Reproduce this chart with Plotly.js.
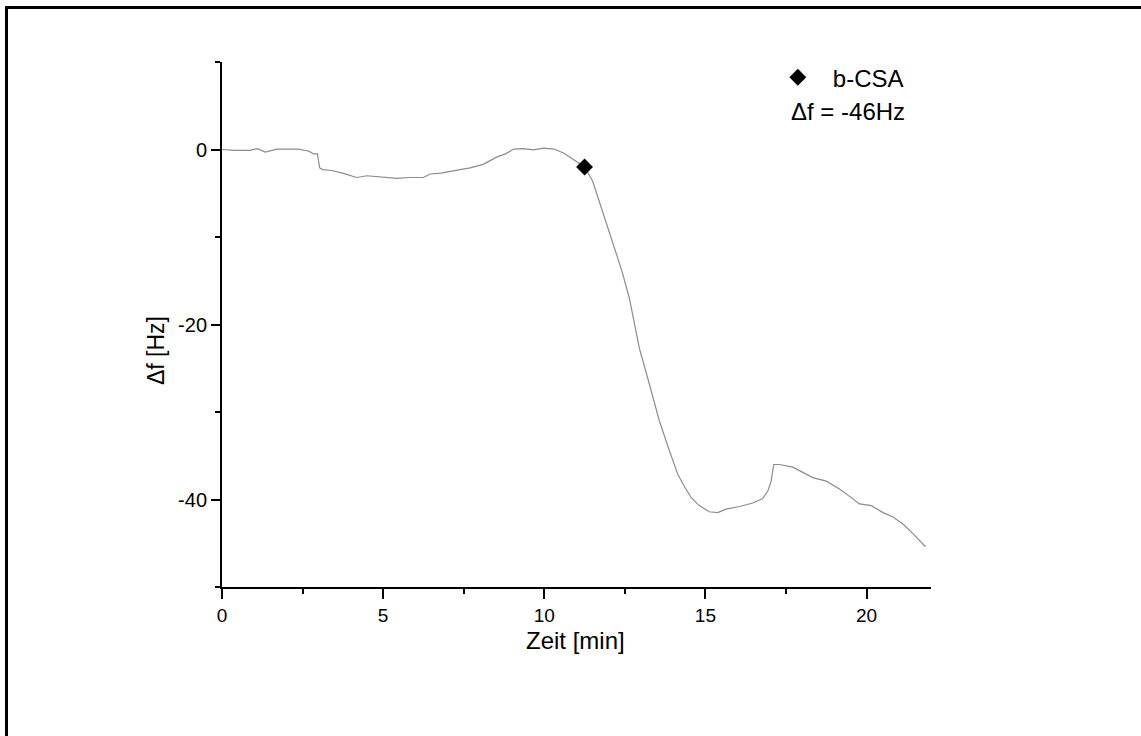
<!DOCTYPE html>
<html>
<head>
<meta charset="utf-8">
<script src="https://cdn.plot.ly/plotly-3.0.1.min.js"></script>
<style>
  html, body { margin: 0; padding: 0; background: #fff; overflow: hidden; }
  #wrap { width: 1141px; height: 736px; position: relative; overflow: hidden; }
  #chart { width: 1141px; height: 736px; }
  #frame { position: absolute; left: 5px; top: 6px; width: 1200px; height: 800px;
           border-left: 3px solid #000; border-top: 3px solid #000; pointer-events: none; }
</style>
</head>
<body>
<div id="wrap">
<div id="chart"></div>
<div id="frame"></div>
</div>
<script>
// Time [min]
const time = [0, 0.4, 0.87, 1.1, 1.34, 1.7, 2.0, 2.37, 2.7, 2.84, 2.96, 3.03, 3.12, 3.4, 3.74,
  4.18, 4.5, 4.77, 5.1, 5.43, 5.8, 6.25, 6.46, 6.8, 7.08, 7.4, 7.7, 8.11, 8.5, 8.8, 9.05,
  9.36, 9.67, 9.98, 10.3, 10.6, 10.9, 11.25, 11.5, 11.7, 12.02, 12.2, 12.41, 12.64, 12.95,
  13.26, 13.57, 13.88, 14.14, 14.3, 14.56, 14.81, 15.12, 15.38, 15.64, 16.06, 16.47, 16.78,
  16.94, 17.04, 17.12, 17.3, 17.71, 17.92, 18.33, 18.75, 19.16, 19.57, 19.78, 20.15, 20.51,
  20.82, 21.13, 21.44, 21.65, 21.83];
// Frequency shift [Hz]
const df = [0, -0.1, -0.1, 0.1, -0.3, 0.05, 0.05, 0.05, -0.2, -0.5, -0.5, -2.1, -2.3, -2.4, -2.7,
  -3.2, -3.0, -3.1, -3.2, -3.3, -3.2, -3.2, -2.8, -2.7, -2.5, -2.3, -2.1, -1.7, -0.9, -0.5, 0.05,
  0.1, -0.05, 0.15, 0.05, -0.4, -1.1, -2.0, -3.6, -5.9, -9.35, -11.6, -13.9, -17.0, -22.7,
  -26.8, -31.0, -34.4, -37.1, -38.2, -39.8, -40.7, -41.4, -41.5, -41.1, -40.8, -40.4, -39.9,
  -39.0, -37.9, -36.0, -36.0, -36.3, -36.7, -37.5, -37.9, -38.8, -39.9, -40.5, -40.7, -41.5,
  -42.0, -42.8, -43.9, -44.7, -45.4];
// Injection marker
const markerTime = [11.25];
const markerDf = [-2.0];
const markerName = "b-CSA";
const noteText = "\u0394f = -46Hz";

// Tick labels
const xTickVals = [0, 5, 10, 15, 20];
const xTickText = ["0", "5", "10", "15", "20"];
const xMinorVals = [2.5, 7.5, 12.5, 17.5];
const yTickVals = [-40, -20, 0];
const yTickText = ["-40", "-20", "0"];
const yMinorVals = [-50, -30, -10, 10];

const font = "Liberation Sans, Arial, sans-serif";

const traces = [
  { x: time, y: df, type: "scatter", mode: "lines",
    line: { color: "#8c8c8c", width: 1.2 }, showlegend: false, hoverinfo: "skip" },
  { x: markerTime, y: markerDf, type: "scatter", mode: "markers", name: markerName,
    marker: { symbol: "diamond", size: 13, color: "#000" } }
];

const layout = {
  width: 1141, height: 736,
  margin: { l: 222, r: 210, t: 62, b: 149 },
  paper_bgcolor: "#fff", plot_bgcolor: "#fff",
  font: { family: font, color: "#000", size: 16 },
  showlegend: true,
  legend: { x: 0.7628, y: 1.013, xanchor: "left", yanchor: "top", itemwidth: 60,
    font: { family: font, size: 24 }, bgcolor: "rgba(0,0,0,0)" },
  xaxis: {
    range: [0, 22], showgrid: false, zeroline: false,
    showline: true, linecolor: "#000", linewidth: 2,
    ticks: "outside", ticklen: 10, tickwidth: 2, tickcolor: "#000",
    tickmode: "array", tickvals: xTickVals, ticktext: xTickText,
    minor: { tickmode: "array", tickvals: xMinorVals, ticklen: 5, tickwidth: 2, tickcolor: "#000", ticks: "outside" },
    tickfont: { family: font, size: 19 }
  },
  yaxis: {
    range: [-50, 10], showgrid: false, zeroline: false,
    showline: true, linecolor: "#000", linewidth: 2,
    ticks: "outside", ticklen: 9, tickwidth: 2, tickcolor: "#000",
    tickmode: "array", tickvals: yTickVals, ticktext: yTickText,
    minor: { tickmode: "array", tickvals: yMinorVals, ticklen: 5, tickwidth: 2, tickcolor: "#000", ticks: "outside" },
    tickfont: { family: font, size: 20 }
  },
  annotations: [
    { text: "Zeit [min]", xref: "paper", yref: "paper", x: 0.4986, y: -0.101,
      xanchor: "center", yanchor: "middle", showarrow: false,
      font: { family: font, size: 24 } },
    { text: "\u0394f [Hz]", xref: "paper", yref: "paper", x: -0.094, y: 0.45,
      xanchor: "center", yanchor: "middle", showarrow: false, textangle: -90,
      font: { family: font, size: 23 } },
    { text: noteText, xref: "paper", yref: "paper", x: (789 - 222) / 709, y: (587 - 111) / 525,
      xanchor: "left", yanchor: "middle", showarrow: false,
      font: { family: font, size: 24 } }
  ]
};

Plotly.newPlot("chart", traces, layout, { displayModeBar: false, staticPlot: true });
</script>
</body>
</html>
